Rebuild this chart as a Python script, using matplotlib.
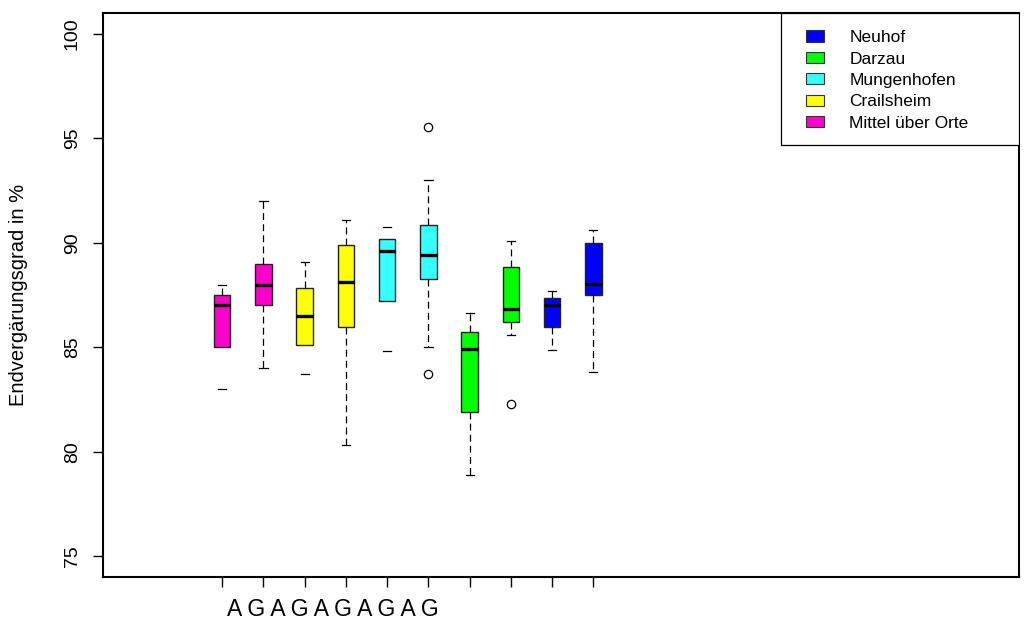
import matplotlib
matplotlib.use("Agg")
import matplotlib.pyplot as plt
from matplotlib.patches import Patch, Rectangle

plt.rcParams.update({
    "font.family": ["Liberation Sans", "DejaVu Sans"],
    "lines.scale_dashes": False,
})

# Data
sorte = ["A", "G", "A", "G", "A", "G", "A", "G", "A", "G"]
positions = [1, 2, 3, 4, 5, 6, 7, 8, 9, 10]
whislo = [83.0, 84.0, 83.7, 80.3, 84.8, 85.0, 78.9, 85.6, 84.85, 83.8]
q1 = [85.0, 87.0, 85.1, 85.95, 87.2, 88.25, 81.9, 86.2, 85.95, 87.5]
med = [87.0, 88.0, 86.5, 88.1, 89.6, 89.4, 84.9, 86.85, 87.0, 88.05]
q3 = [87.5, 89.0, 87.85, 89.9, 90.2, 90.85, 85.75, 88.85, 87.35, 90.0]
whishi = [88.0, 92.0, 89.1, 91.1, 90.75, 93.0, 86.65, 90.1, 87.7, 90.6]
fliers = [[], [], [], [], [], [95.55, 83.7], [], [82.3], [], []]

orte = ["Neuhof", "Darzau", "Mungenhofen", "Crailsheim", "Mittel über Orte"]
ort_colors = {"Neuhof": "#0000FF", "Darzau": "#00FF00", "Mungenhofen": "#33FFFF",
              "Crailsheim": "#FFFF00", "Mittel über Orte": "#FF00CC"}
box_ort = ["Mittel über Orte", "Mittel über Orte", "Crailsheim", "Crailsheim",
           "Mungenhofen", "Mungenhofen", "Darzau", "Darzau", "Neuhof", "Neuhof"]

stats = [dict(whislo=whislo[i], q1=q1[i], med=med[i], q3=q3[i],
              whishi=whishi[i], fliers=fliers[i]) for i in range(len(positions))]

fig = plt.figure(figsize=(10.29, 6.21), dpi=100)
ax = fig.add_axes([103 / 1029, 1 - 577 / 621, 916 / 1029, 564 / 621])

bp = ax.bxp(stats, positions=positions, widths=0.4, patch_artist=True,
            boxprops=dict(edgecolor="#222222", linewidth=1.0),
            medianprops=dict(color="black", linewidth=2.4, solid_capstyle="butt"),
            whiskerprops=dict(color="black", linewidth=0.9, linestyle=(0, (5, 3))),
            capprops=dict(color="black", linewidth=0.9),
            flierprops=dict(marker="o", markerfacecolor="none", markeredgecolor="black",
                            markersize=6, markeredgewidth=0.9))
for patch, ort in zip(bp["boxes"], box_ort):
    patch.set_facecolor(ort_colors[ort])
# some whiskers are not rendered in the original
for idx in (0, 4, 8, 9):
    bp["whiskers"][idx].set_visible(False)

ax.set_xlim(-1.89, 20.32)
ax.set_ylim(74, 101)
ax.set_xticks(positions)
ax.set_xticklabels([])
ax.set_yticks([75, 80, 85, 90, 95, 100])
ax.set_yticklabels(["75", "80", "85", "90", "95", "100"], rotation=90, va="center")
ax.tick_params(axis="both", direction="out", length=7, width=1, color="black")
ax.tick_params(axis="y", labelsize=14, pad=9)
for s in ax.spines.values():
    s.set_linewidth(1.5)

ax.set_ylabel("Endvergärungsgrad in %", fontsize=14.5)
ax.yaxis.set_label_coords(-0.082, 0.5)

ax.text(3.69, -0.058, " ".join(sorte), fontsize=16.5, ha="center", va="center",
        transform=ax.get_xaxis_transform())

# legend box flush with the top-right corner
ax.add_patch(Rectangle((0.740, 0.766), 0.260, 0.234, transform=ax.transAxes,
                       facecolor="white", edgecolor="black", linewidth=0.9, zorder=4))
handles = [Patch(facecolor=ort_colors[o], edgecolor="#333333", linewidth=0.8) for o in orte]
leg = ax.legend(handles, orte, loc="upper left", bbox_to_anchor=(0.7675, 0.9697),
                borderaxespad=0, borderpad=0, frameon=False, fontsize=12.5,
                handlelength=1.05, handleheight=0.62, handletextpad=1.45,
                labelspacing=0.37)
leg.set_zorder(5)

fig.savefig("out.png", dpi=100)
